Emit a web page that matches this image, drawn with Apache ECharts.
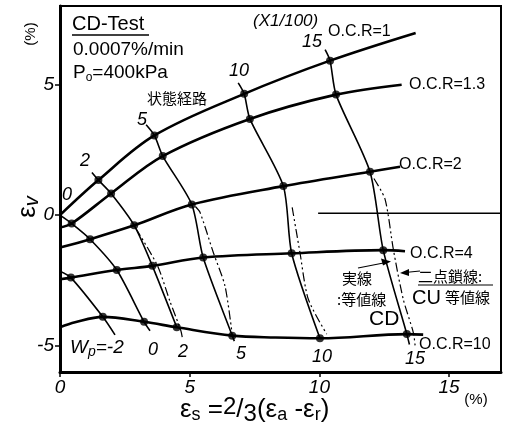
<!DOCTYPE html>
<html>
<head>
<meta charset="utf-8">
<script src="https://cdn.jsdelivr.net/npm/echarts@6/dist/echarts.min.js"></script>
<style>
html,body{margin:0;padding:0;background:#fff;}
#chart{width:509px;height:429px;}
</style>
</head>
<body>
<div id="chart"></div>
<script>
// Plastic work levels (Wp, x1/100) drawn as contours across the state paths
const wpLevels = [-2, 0, 2, 5, 10, 15];

// State paths: [εs, εv] in %, one per O.C.R.
const ocrNames = ['O.C.R=1', 'O.C.R=1.3', 'O.C.R=2', 'O.C.R=4', 'O.C.R=10'];
const pathOcr1  = [[0, 0], [1.48, 1.34], [3.64, 3.05], [7.10, 4.64], [10.41, 5.91], [13.71, 6.97]];
const pathOcr13 = [[0, -0.47], [0.45, -0.32], [1.97, 0.83], [3.96, 2.26], [7.32, 3.68], [10.64, 4.61], [13.17, 4.99]];
const pathOcr2  = [[0, -1.24], [1.16, -0.92], [2.86, -0.39], [5.08, 0.41], [8.61, 1.11], [11.95, 1.66], [13.11, 1.85]];
const pathOcr4  = [[0, -2.45], [0.42, -2.39], [2.19, -2.10], [3.56, -1.94], [5.52, -1.62], [8.93, -1.46], [12.46, -1.34], [13.3, -1.38]];
const pathOcr10 = [[0, -4.29], [0.58, -4.10], [1.65, -3.89], [3.24, -4.08], [4.50, -4.29], [6.64, -4.61], [8.3, -4.68], [10.02, -4.71], [13.37, -4.55], [14.0, -4.57]];

// Index of the point on each path where it crosses each Wp level (-1: no crossing)
const crossOcr1  = [-1, 0, 1, 2, 3, 4];
const crossOcr13 = [-1, 1, 2, 3, 4, 5];
const crossOcr2  = [-1, 1, 2, 3, 4, 5];
const crossOcr4  = [1, 2, 3, 4, 5, 6];
const crossOcr10 = [2, 3, 4, 5, 7, 8];

// Leader ends of the CD contours beyond the outer paths
const cdHeads = [[0, -2.15], null, [1.23, 1.63], [3.32, 3.46], [6.87, 5.06], [10.22, 6.33]];
const cdTails = [[2.12, -4.58], [3.47, -4.42], null, [6.72, -4.82], null, [13.47, -4.95]];

// CU contours (two-dot chain lines)
const cuWp2  = [[2.92, -0.50], [3.76, -1.94], [4.24, -3.30], [4.66, -4.42], [4.72, -4.72]];
const cuWp5  = [[5.22, 0.33], [5.40, 0.10], [5.91, -1.43], [6.36, -2.71], [6.64, -4.58]];
const cuWp10 = [[8.95, 0.30], [9.25, -1.43], [9.57, -3.21], [10.28, -4.55]];
const cuWp15 = [[12.10, 1.40], [12.53, 0.61], [12.85, -1.31], [13.23, -3.21], [13.62, -4.49], [13.69, -5.0]];

// Horizontal rule on the right side
const ruleLine = [[9.95, 0.07], [17, 0.07]];

// Axis ranges and tick labels
const xTicks = [0, 5, 10, 15];
const yTicks = [-5, 0, 5];

const FONT = '"Liberation Sans", Arial, sans-serif';

const paths = [pathOcr1, pathOcr13, pathOcr2, pathOcr4, pathOcr10];
const crosses = [crossOcr1, crossOcr13, crossOcr2, crossOcr4, crossOcr10];

const series = [];
paths.forEach(function (p, i) {
  series.push({
    name: ocrNames[i], type: 'line', data: p, smooth: 0.35, symbol: 'none',
    lineStyle: { color: '#000', width: 2.6 }, z: 3, silent: true
  });
});

wpLevels.forEach(function (w, j) {
  const pts = [];
  if (cdHeads[j]) pts.push(cdHeads[j]);
  paths.forEach(function (p, i) {
    const k = crosses[i][j];
    if (k >= 0) pts.push(p[k]);
  });
  if (cdTails[j]) pts.push(cdTails[j]);
  series.push({
    type: 'line', data: pts, smooth: 0.25, symbol: 'none',
    lineStyle: { color: '#000', width: 1.6 }, z: 2, silent: true
  });
});

[cuWp2, cuWp5, cuWp10, cuWp15].forEach(function (c) {
  series.push({
    type: 'line', data: c, smooth: 0.25, symbol: 'none',
    lineStyle: { color: '#000', width: 1.2, type: [9, 3, 2, 3, 2, 3] }, z: 2, silent: true
  });
});

series.push({
  type: 'line', data: ruleLine, symbol: 'none',
  lineStyle: { color: '#000', width: 1.5 }, z: 2, silent: true
});

// Dots where the paths meet the contours
const marks = [];
paths.forEach(function (p, i) {
  crosses[i].forEach(function (k) {
    if (k >= 0 && p[k][0] > 0) marks.push(p[k]);
  });
});
series.push({
  type: 'scatter', data: marks, symbolSize: 8,
  itemStyle: { color: '#000' }, z: 5, silent: true
});

function txt(x, y, text, size, opts) {
  opts = opts || {};
  return {
    type: 'text', x: x, y: y, rotation: opts.rotation || 0, z: 10,
    style: {
      text: text,
      font: (opts.italic ? 'italic ' : '') + size + 'px ' + (opts.family || FONT),
      fill: '#000',
      textAlign: opts.align || 'left',
      textVerticalAlign: 'middle',
      rich: opts.rich
    }
  };
}
function seg(x1, y1, x2, y2, w) {
  return { type: 'line', z: 10, shape: { x1: x1, y1: y1, x2: x2, y2: y2 }, style: { stroke: '#000', lineWidth: w || 1.2 } };
}

const CJK = '"Noto Sans CJK JP", sans-serif';

const graphics = [
  // test conditions
  txt(72, 24, 'CD-Test', 20),
  seg(72, 35, 149, 35, 1.3),
  txt(73, 50, '0.0007%/min', 19),
  txt(73, 73, 'P{s|o}=400kPa', 19, { rich: { s: { fontSize: 12, padding: [9, 0, 0, 0], fontFamily: FONT } } }),
  txt(147, 98, '状態経路', 15, { family: CJK }),
  txt(253, 21, '(X1/100)', 17, { italic: true }),
  // path names
  txt(328, 32, ocrNames[0], 16),
  txt(409, 85, ocrNames[1], 16),
  txt(399, 165, ocrNames[2], 16),
  txt(410, 254, ocrNames[3], 16),
  txt(419, 345, ocrNames[4], 16),
  // Wp values along the top path
  txt(67, 195, '0', 18, { italic: true, align: 'center' }),
  txt(85, 161, '2', 18, { italic: true, align: 'center' }),
  txt(142, 120, '5', 18, { italic: true, align: 'center' }),
  txt(239, 71, '10', 18, { italic: true, align: 'center' }),
  txt(312, 42, '15', 18, { italic: true, align: 'center' }),
  // Wp values along the bottom path
  txt(70, 348, 'W{s|p}=-2', 19, { italic: true, rich: { s: { fontSize: 14, padding: [9, 0, 0, 0], fontStyle: 'italic', fontFamily: FONT } } }),
  txt(153, 350, '0', 18, { italic: true, align: 'center' }),
  txt(183, 352, '2', 18, { italic: true, align: 'center' }),
  txt(241, 354, '5', 18, { italic: true, align: 'center' }),
  txt(322, 357, '10', 18, { italic: true, align: 'center' }),
  txt(415, 359, '15', 18, { italic: true, align: 'center' }),
  // legend notes
  txt(342, 278, '実線', 15, { family: CJK }),
  txt(337, 299, ':等値線', 15, { family: CJK }),
  txt(369, 319, 'CD', 21),
  txt(418, 276, '二点鎖線:', 15, { family: CJK }),
  seg(418, 285, 493, 285, 1.2),
  txt(412, 298, 'CU', 20),
  txt(445, 297, '等値線', 15, { family: CJK }),
  seg(358, 268, 386, 262.5, 1.2),
  { type: 'polygon', z: 10, shape: { points: [[391, 261.5], [381, 258.5], [383, 265.5]] }, style: { fill: '#000' } },
  seg(420, 271, 405, 272.5, 1.2),
  { type: 'polygon', z: 10, shape: { points: [[400, 273], [409, 269], [409, 276]] }, style: { fill: '#000' } },
  // axis names and units
  txt(28, 207, 'ε{s|v}', 26, { rotation: Math.PI / 2, align: 'center', rich: { s: { fontSize: 20, padding: [8, 0, 0, 0], fontStyle: 'italic', fontFamily: FONT } } }),
  txt(31, 34, '(%)', 15, { rotation: Math.PI / 2, align: 'center' }),
  txt(180, 410, 'ε{s|s} ={u|2}/{d|3}(ε{s|a} -ε{s|r})', 26, {
    rich: {
      s: { fontSize: 18, padding: [10, 0, 0, 0], fontFamily: FONT },
      u: { fontSize: 24, padding: [0, 0, 6, 0], fontFamily: FONT },
      d: { fontSize: 24, padding: [8, 0, 0, 0], fontFamily: FONT }
    }
  }),
  txt(476, 400, '(%)', 15, { align: 'center' })
];

const chart = echarts.init(document.getElementById('chart'), null, { renderer: 'canvas' });
chart.setOption({
  animation: false,
  backgroundColor: '#fff',
  grid: { left: 60, top: 6, width: 441, height: 366, show: true, borderColor: '#000', borderWidth: 2, containLabel: false },
  xAxis: {
    type: 'value', min: 0, max: 17,
    axisLine: { show: true, onZero: false, lineStyle: { color: '#000', width: 3 } },
    axisTick: { show: true, customValues: xTicks, length: 5, lineStyle: { color: '#000', width: 1.5 } },
    axisLabel: { customValues: xTicks, margin: 6, color: '#000', fontSize: 19, fontStyle: 'italic', fontFamily: FONT },
    splitLine: { show: false }
  },
  yAxis: {
    type: 'value', min: -6, max: 8,
    axisLine: { show: true, onZero: false, lineStyle: { color: '#000', width: 3 } },
    axisTick: { show: true, customValues: yTicks, length: 5, lineStyle: { color: '#000', width: 1.5 } },
    axisLabel: { customValues: yTicks, margin: 6, color: '#000', fontSize: 19, fontStyle: 'italic', fontFamily: FONT },
    splitLine: { show: false }
  },
  series: series,
  graphic: graphics
});
</script>
</body>
</html>
